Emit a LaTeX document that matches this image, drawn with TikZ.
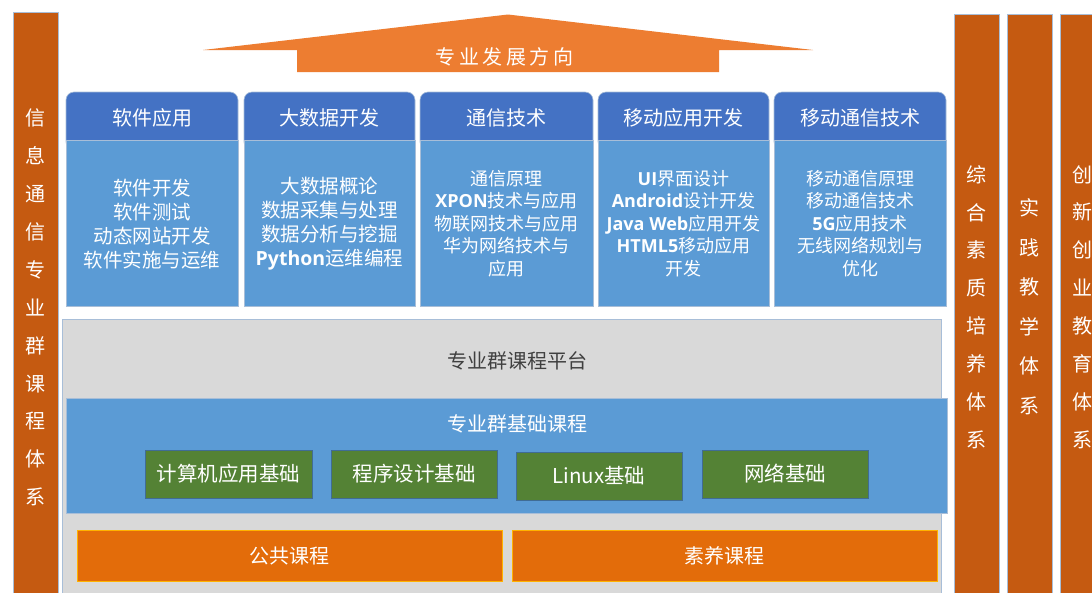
\documentclass[tikz,border=0pt]{standalone}
\usepackage{fontspec}
\setmainfont{Noto Sans CJK SC}
\newfontfamily\latbold{Open Sans}[UprightFont=*, BoldFont=* Bold]
\newcommand{\lb}[1]{{\latbold\bfseries #1}}
\definecolor{sidebar}{HTML}{C55A11}
\definecolor{arrowc}{HTML}{ED7D31}
\definecolor{headc}{HTML}{4472C4}
\definecolor{bodyc}{HTML}{5B9BD5}
\definecolor{grayc}{HTML}{D9D9D9}
\definecolor{greenc}{HTML}{548235}
\definecolor{orangec}{HTML}{E36C0A}
\definecolor{edgec}{HTML}{A8BED8}
\definecolor{darktext}{HTML}{404040}
\tikzset{
  sidebox/.style={fill=sidebar, draw=edgec, line width=0.7pt},
  vtext/.style={text=white, align=center, font=\fontsize{20}{37.9}\selectfont, inner sep=0pt},
  headbox/.style={fill=headc, draw=edgec, line width=0.6pt, rounded corners=8pt},
  bodybox/.style={fill=bodyc, draw=edgec, line width=0.6pt},
  headtext/.style={text=white, font=\fontsize{20}{24}\selectfont, inner sep=0pt},
  bodytextA/.style={text=white, align=center, font=\fontsize{19.5}{24}\selectfont, inner sep=0pt},
  bodytextB/.style={text=white, align=center, font=\fontsize{18}{22.6}\selectfont, inner sep=0pt},
  greenbox/.style={fill=greenc, draw=bodyc!70!black, line width=0.5pt, text=white, font=\fontsize{20.5}{24}\selectfont, inner sep=0pt},
  orangebox/.style={fill=orangec, draw=orange!60!yellow, line width=0.6pt, text=white, font=\fontsize{20}{24}\selectfont, inner sep=0pt},
}
\begin{document}
\begin{tikzpicture}[x=1pt,y=-1pt]
\useasboundingbox (0,0) rectangle (1092,592);
\clip (0,0) rectangle (1092,592);
\fill[white] (0,0) rectangle (1092,592);

% left side bar
\filldraw[sidebox] (13,12) rectangle (58,600);
\node[vtext] (lefttext) at (35.5,307.5) {信\\息\\通\\信\\专\\业\\群\\课\\程\\体\\系};

% right side bars
\filldraw[sidebox] (954,14) rectangle (999,600);
\node[vtext] (r1text) at (976.5,307) {综\\合\\素\\质\\培\\养\\体\\系};
\filldraw[sidebox] (1007,14) rectangle (1052,600);
\node[vtext, font=\fontsize{20}{39.5}\selectfont] (r2text) at (1029.5,306.5) {实\\践\\教\\学\\体\\系};
\filldraw[sidebox] (1060,14) rectangle (1110,600);
\node[vtext] (r3text) at (1082,307) {创\\新\\创\\业\\教\\育\\体\\系};

% top arrow
\fill[arrowc] (203,50) -- (508,14.5) -- (813,50) -- (719,50) -- (719,72) -- (297,72) -- (297,50) -- cycle;
\node[text=white, font=\fontsize{20}{24}\selectfont, inner sep=0pt] (arrowtext) at (504.5,57) {专\hspace{3.5pt}业\hspace{3.5pt}发\hspace{3.5pt}展\hspace{3.5pt}方\hspace{3.5pt}向};

% columns
\foreach \xl/\xr in {66/238, 244/415, 420/593, 598/769, 774/946}{
  \filldraw[headbox] (\xl,92) rectangle (\xr,150);
  \filldraw[bodybox] (\xl,140) rectangle (\xr,306);
}
\node[headtext] (h1) at (152,118) {软件应用};
\node[headtext] (h2) at (329.5,118) {大数据开发};
\node[headtext] (h3) at (506.5,118) {通信技术};
\node[headtext] (h4) at (683.5,118) {移动应用开发};
\node[headtext] (h5) at (860,118) {移动通信技术};

\node[bodytextA] (b1) at (152,224) {软件开发\\软件测试\\动态网站开发\\软件实施与运维};
\node[bodytextA] (b2) at (329.5,224) {大数据概论\\数据采集与处理\\数据分析与挖掘\\\lb{Python}运维编程};
\node[bodytextB] (b3) at (506.5,223.5) {通信原理\\\lb{XPON}技术与应用\\物联网技术与应用\\华为网络技术与\\应用};
\node[bodytextB] (b4) at (683.5,223.5) {\lb{UI}界面设计\\\lb{Android}设计开发\\\lb{Java Web}应用开发\\\lb{HTML5}移动应用\\开发};
\node[bodytextB] (b5) at (860,223.5) {移动通信原理\\移动通信技术\\\lb{5G}应用技术\\无线网络规划与\\优化};

% platform
\filldraw[fill=grayc, draw=edgec, line width=0.7pt] (62,319) rectangle (941,600);
\node[text=darktext, font=\fontsize{20}{24}\selectfont, inner sep=0pt] (platform) at (517,361) {专业群课程平台};

% base course
\filldraw[fill=bodyc, draw=edgec, line width=0.6pt] (66,398) rectangle (947,513);
\node[text=white, font=\fontsize{20}{24}\selectfont, inner sep=0pt] (basetitle) at (517,424) {专业群基础课程};

\node[greenbox, minimum width=167pt, minimum height=48pt] (g1) at (228.5,474) {计算机应用基础};
\node[greenbox, minimum width=166pt, minimum height=48pt] (g2) at (414,474) {程序设计基础};
\node[greenbox, minimum width=166pt, minimum height=48pt] (g3) at (599,476) {Linux基础};
\node[greenbox, minimum width=166pt, minimum height=48pt] (g4) at (785,474) {网络基础};

% bottom
\node[orangebox, minimum width=425pt, minimum height=51pt] (o1) at (289.5,555.5) {公共课程};
\node[orangebox, minimum width=425pt, minimum height=51pt] (o2) at (724.5,555.5) {素养课程};
\end{tikzpicture}
\end{document}
